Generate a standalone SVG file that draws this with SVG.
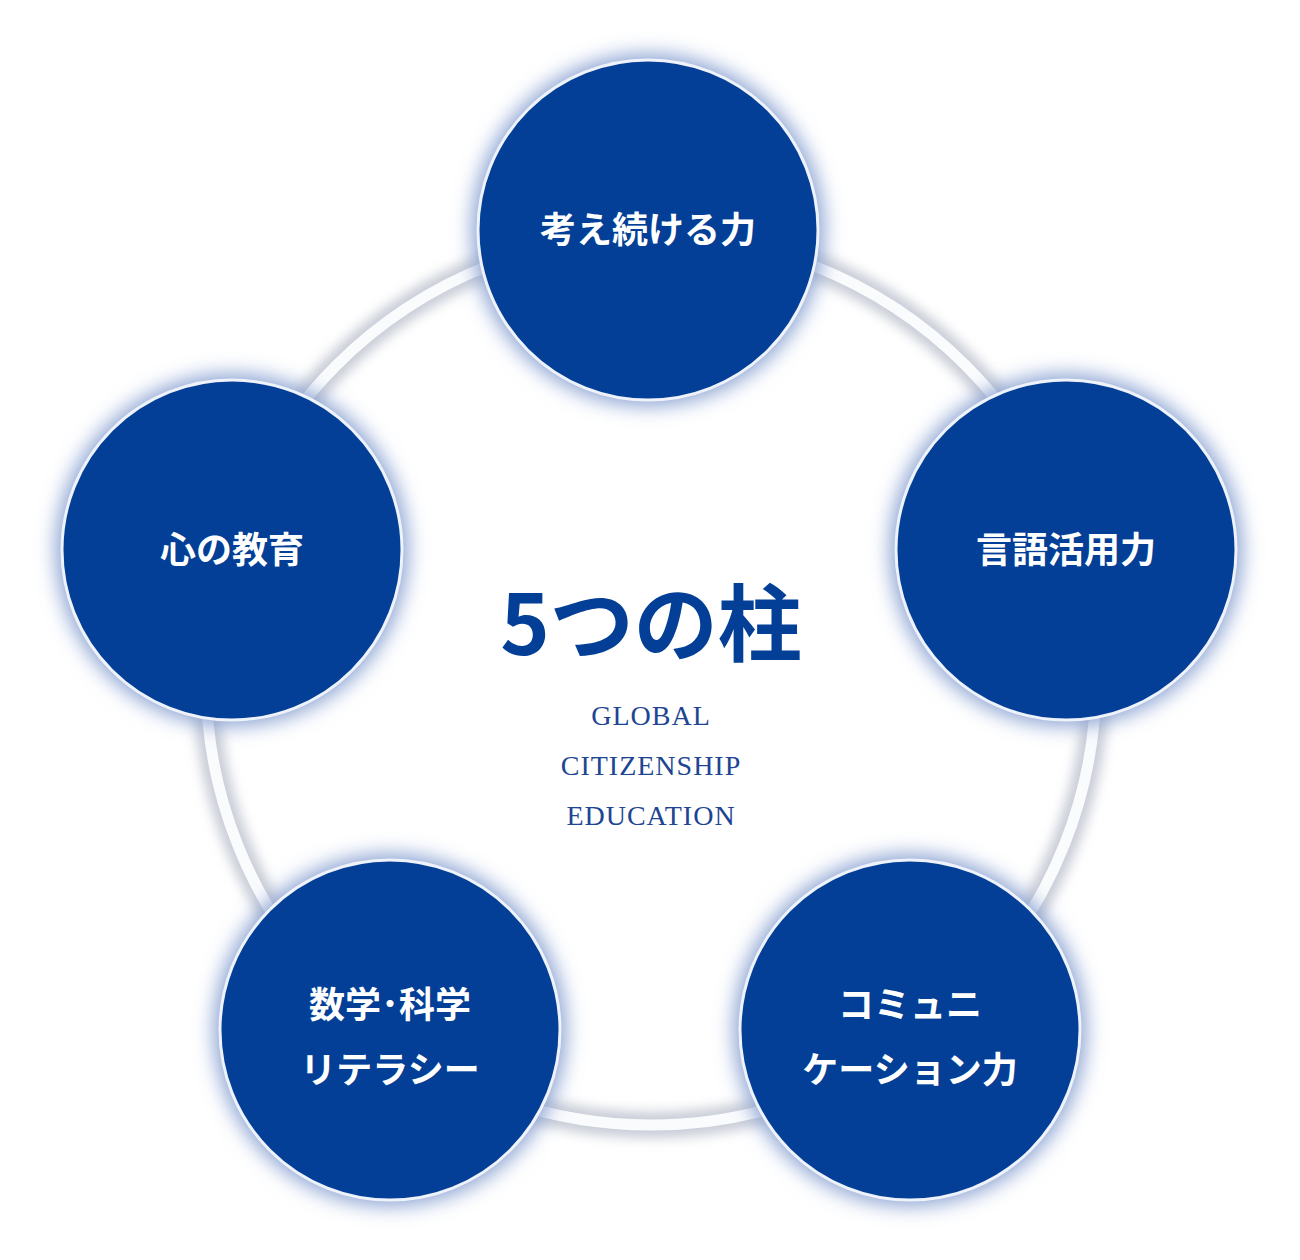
<svg xmlns="http://www.w3.org/2000/svg" width="1300" height="1260" viewBox="0 0 1300 1260">
<defs>
<filter id="glow" x="-30%" y="-30%" width="160%" height="160%"><feGaussianBlur stdDeviation="10"/></filter>
<filter id="rs" x="-10%" y="-10%" width="120%" height="120%"><feGaussianBlur stdDeviation="6"/></filter>
<style>
.halo{fill:#8aa2d2}
.node{fill:#033f96;stroke:#eef2fa;stroke-width:3}
.lbl{font-family:"Noto Sans CJK JP",sans-serif;font-weight:700;font-size:36px;fill:#fff;text-anchor:middle}
.en{font-family:"Liberation Serif",serif;font-size:28px;fill:#1d4594;text-anchor:middle;letter-spacing:1px}
</style>
</defs>
<rect width="1300" height="1260" fill="#fff"/>
<g id="connectors">
<circle cx="651" cy="680" r="445" fill="none" stroke="#c8ccd6" stroke-width="26" filter="url(#rs)"/>
<circle cx="651" cy="680" r="445" fill="none" stroke="#fafbfd" stroke-width="11"/>
</g>
<g id="n1"><circle cx="648" cy="230" r="176" class="halo" filter="url(#glow)"/><circle cx="648" cy="230" r="170" class="node"/><text x="648" y="243" class="lbl">考え続ける力</text></g>
<g id="n2"><circle cx="1066" cy="550" r="176" class="halo" filter="url(#glow)"/><circle cx="1066" cy="550" r="170" class="node"/><text x="1066" y="563" class="lbl">言語活用力</text></g>
<g id="n3"><circle cx="910" cy="1030" r="176" class="halo" filter="url(#glow)"/><circle cx="910" cy="1030" r="170" class="node"/><text x="910" y="1018" class="lbl">コミュニ</text><text x="910" y="1083" class="lbl">ケーション力</text></g>
<g id="n4"><circle cx="390" cy="1030" r="176" class="halo" filter="url(#glow)"/><circle cx="390" cy="1030" r="170" class="node"/><text x="390" y="1018" class="lbl">数学･科学</text><text x="390" y="1083" class="lbl">リテラシー</text></g>
<g id="n5"><circle cx="232" cy="550" r="176" class="halo" filter="url(#glow)"/><circle cx="232" cy="550" r="170" class="node"/><text x="232" y="563" class="lbl">心の教育</text></g>
<g id="center">
<text x="651" y="655" font-family="'Noto Sans CJK JP',sans-serif" font-weight="700" font-size="84" fill="#033f96" text-anchor="middle">5つの柱</text>
<text x="651" y="725" class="en">GLOBAL</text>
<text x="651" y="775" class="en">CITIZENSHIP</text>
<text x="651" y="825" class="en">EDUCATION</text>
</g>
</svg>
